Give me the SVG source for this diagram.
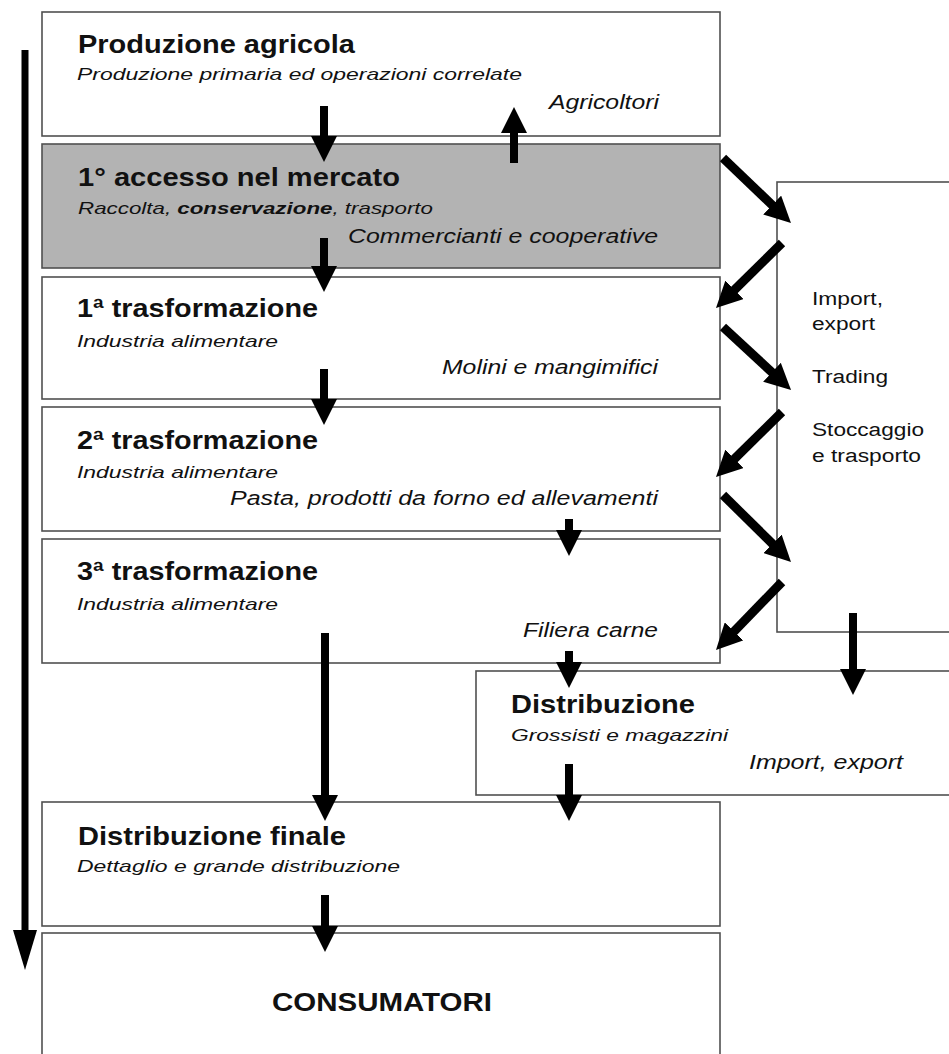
<svg xmlns="http://www.w3.org/2000/svg" width="949" height="1054" viewBox="0 0 949 1054">
<style>
.box{fill:#ffffff;stroke:#505050;stroke-width:1.6}
.grey{fill:#b3b3b3}
text{font-family:"Liberation Sans",Arial,sans-serif;fill:#111}
.t{font-size:26px;font-weight:bold}
.s{font-size:17px;font-style:italic}
.l{font-size:20px;font-style:italic}
.r{font-size:18px}
.sh{stroke:#000;fill:none}
.v{stroke-width:8}
.d{stroke-width:9}
</style>
<defs>
<marker id="ah" markerUnits="userSpaceOnUse" markerWidth="27" markerHeight="26" refX="1" refY="13" orient="auto">
<path d="M0,0 L26,13 L0,26 Z" fill="#000"/>
</marker>
<marker id="big" markerUnits="userSpaceOnUse" markerWidth="42" markerHeight="26" refX="1" refY="12" orient="auto">
<path d="M0,0 L40,12 L0,24 Z" fill="#000"/>
</marker>
</defs>
<rect x="0" y="0" width="949" height="1054" fill="#fff"/>

<g id="produzione-agricola">
<rect class="box" x="42" y="12" width="678" height="124"/>
<text class="t" x="78" y="53" textLength="277" lengthAdjust="spacingAndGlyphs">Produzione agricola</text>
<text class="s" x="77" y="80" textLength="445" lengthAdjust="spacingAndGlyphs">Produzione primaria ed operazioni correlate</text>
<text class="l" x="549" y="109" textLength="110" lengthAdjust="spacingAndGlyphs">Agricoltori</text>
</g>

<g id="primo-accesso">
<rect class="box grey" x="42" y="144" width="678" height="124"/>
<text class="t" x="78" y="186" textLength="322" lengthAdjust="spacingAndGlyphs">1° accesso nel mercato</text>
<text class="s" x="78" y="214" textLength="355" lengthAdjust="spacingAndGlyphs">Raccolta, <tspan font-weight="bold">conservazione</tspan>, trasporto</text>
<text class="l" x="348" y="243" textLength="310" lengthAdjust="spacingAndGlyphs">Commercianti e cooperative</text>
</g>

<g id="prima-trasformazione">
<rect class="box" x="42" y="277" width="678" height="122"/>
<text class="t" x="77" y="317" textLength="241" lengthAdjust="spacingAndGlyphs">1ª trasformazione</text>
<text class="s" x="77" y="347" textLength="201" lengthAdjust="spacingAndGlyphs">Industria alimentare</text>
<text class="l" x="442" y="374" textLength="216" lengthAdjust="spacingAndGlyphs">Molini e mangimifici</text>
</g>

<g id="seconda-trasformazione">
<rect class="box" x="42" y="407" width="678" height="124"/>
<text class="t" x="77" y="449" textLength="241" lengthAdjust="spacingAndGlyphs">2ª trasformazione</text>
<text class="s" x="77" y="478" textLength="201" lengthAdjust="spacingAndGlyphs">Industria alimentare</text>
<text class="l" x="230" y="505" textLength="428" lengthAdjust="spacingAndGlyphs">Pasta, prodotti da forno ed allevamenti</text>
</g>

<g id="terza-trasformazione">
<rect class="box" x="42" y="539" width="678" height="124"/>
<text class="t" x="77" y="580" textLength="241" lengthAdjust="spacingAndGlyphs">3ª trasformazione</text>
<text class="s" x="77" y="610" textLength="201" lengthAdjust="spacingAndGlyphs">Industria alimentare</text>
<text class="l" x="523" y="637" textLength="135" lengthAdjust="spacingAndGlyphs">Filiera carne</text>
</g>

<g id="trading">
<rect class="box" x="777" y="182" width="190" height="450"/>
<text class="r" x="812" y="305" textLength="71" lengthAdjust="spacingAndGlyphs">Import,</text>
<text class="r" x="812" y="330" textLength="63" lengthAdjust="spacingAndGlyphs">export</text>
<text class="r" x="812" y="383" textLength="76" lengthAdjust="spacingAndGlyphs">Trading</text>
<text class="r" x="812" y="436" textLength="112" lengthAdjust="spacingAndGlyphs">Stoccaggio</text>
<text class="r" x="812" y="462" textLength="109" lengthAdjust="spacingAndGlyphs">e trasporto</text>
</g>

<g id="distribuzione">
<rect class="box" x="476" y="671" width="490" height="124"/>
<text class="t" x="511" y="713" textLength="184" lengthAdjust="spacingAndGlyphs">Distribuzione</text>
<text class="s" x="511" y="741" textLength="217" lengthAdjust="spacingAndGlyphs">Grossisti e magazzini</text>
<text class="l" x="749" y="769" textLength="154" lengthAdjust="spacingAndGlyphs">Import, export</text>
</g>

<g id="distribuzione-finale">
<rect class="box" x="42" y="802" width="678" height="124"/>
<text class="t" x="78" y="845" textLength="268" lengthAdjust="spacingAndGlyphs">Distribuzione finale</text>
<text class="s" x="77" y="872" textLength="323" lengthAdjust="spacingAndGlyphs">Dettaglio e grande distribuzione</text>
</g>

<g id="consumatori">
<rect class="box" x="42" y="933" width="678" height="140"/>
<text class="t" x="272" y="1011" textLength="220" lengthAdjust="spacingAndGlyphs">CONSUMATORI</text>
</g>

<g id="connectors">
<line class="sh" x1="25" y1="50" x2="25" y2="931" stroke-width="7" marker-end="url(#big)"/>
<line class="sh v" x1="324" y1="106" x2="324" y2="137" marker-end="url(#ah)"/>
<line class="sh v" x1="514" y1="163" x2="514" y2="132" marker-end="url(#ah)"/>
<line class="sh v" x1="324" y1="238" x2="324" y2="267" marker-end="url(#ah)"/>
<line class="sh v" x1="324" y1="369" x2="324" y2="400" marker-end="url(#ah)"/>
<line class="sh v" x1="569" y1="519" x2="569" y2="531" marker-end="url(#ah)"/>
<line class="sh v" x1="569" y1="651" x2="569" y2="663" marker-end="url(#ah)"/>
<line class="sh v" x1="325" y1="633" x2="325" y2="796" marker-end="url(#ah)"/>
<line class="sh v" x1="569" y1="764" x2="569" y2="796" marker-end="url(#ah)"/>
<line class="sh v" x1="853" y1="613" x2="853" y2="670" marker-end="url(#ah)"/>
<line class="sh v" x1="325" y1="895" x2="325" y2="927" marker-end="url(#ah)"/>
<line class="sh d" x1="723" y1="158" x2="772.9" y2="205.7" marker-end="url(#ah)"/>
<line class="sh d" x1="782" y1="243" x2="733.8" y2="290.5" marker-end="url(#ah)"/>
<line class="sh d" x1="723" y1="327" x2="772.7" y2="373" marker-end="url(#ah)"/>
<line class="sh d" x1="782" y1="412" x2="733.8" y2="459.5" marker-end="url(#ah)"/>
<line class="sh d" x1="723" y1="495" x2="773.2" y2="544.5" marker-end="url(#ah)"/>
<line class="sh d" x1="782" y1="582" x2="733.4" y2="632.1" marker-end="url(#ah)"/>
</g>
</svg>
